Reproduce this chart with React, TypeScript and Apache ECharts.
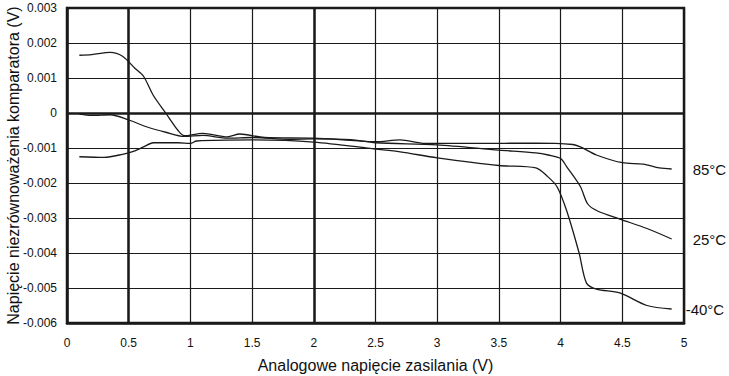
import React, { useEffect, useRef } from "react";
import * as echarts from "echarts";

const xTicks = [0, 0.5, 1, 1.5, 2, 2.5, 3, 3.5, 4, 4.5, 5];
const seriesNames = ["85°C", "25°C", "-40°C"];

const hot85: [number, number][] = [
  [0.1, 0.00165], [0.2, 0.00167], [0.35, 0.00173], [0.45, 0.00162], [0.55, 0.00128],
  [0.62, 0.00105], [0.7, 0.0005], [0.8, 0.0], [0.9, -0.0005], [0.95, -0.00065],
  [1.1, -0.00058], [1.3, -0.00068], [1.4, -0.0006], [1.6, -0.0007], [2.0, -0.00072],
  [2.3, -0.00078], [2.5, -0.00082], [2.7, -0.00077], [2.9, -0.00087], [3.3, -0.00087],
  [3.8, -0.00086], [4.1, -0.0009], [4.16, -0.00097], [4.29, -0.0012], [4.5, -0.00142],
  [4.67, -0.00146], [4.8, -0.00157], [4.9, -0.0016],
];

const room25: [number, number][] = [
  [0.1, -0.00003], [0.2, -0.00007], [0.35, -0.00005], [0.5, -0.0002], [0.65, -0.0004],
  [0.8, -0.00055], [0.95, -0.00067], [1.1, -0.00064], [1.3, -0.00072], [1.5, -0.0007],
  [1.8, -0.00075], [2.0, -0.00074], [2.3, -0.00076], [2.5, -0.00085], [3.0, -0.00091],
  [3.5, -0.00106], [3.8, -0.00114], [3.9, -0.0012], [4.0, -0.0013], [4.05, -0.00154],
  [4.16, -0.0021], [4.22, -0.0026], [4.3, -0.0028], [4.48, -0.00303], [4.7, -0.0033],
  [4.9, -0.0036],
];

const cold40: [number, number][] = [
  [0.1, -0.00125], [0.3, -0.00127], [0.45, -0.00118], [0.55, -0.00108], [0.62, -0.00097],
  [0.7, -0.00085], [0.9, -0.00085], [1.0, -0.00087], [1.05, -0.0008], [1.5, -0.00077],
  [2.0, -0.00083], [2.5, -0.00103], [2.7, -0.00111], [3.0, -0.00128], [3.5, -0.0015],
  [3.8, -0.00157], [3.89, -0.0018], [3.97, -0.0021], [4.05, -0.0028], [4.15, -0.004],
  [4.21, -0.00486], [4.29, -0.00503], [4.48, -0.00514], [4.7, -0.0055], [4.9, -0.0056],
];

const thickX = [0.5, 2];
const thickY = [0.001];

export default function App() {
  const ref = useRef<HTMLDivElement>(null);
  useEffect(() => {
    if (!ref.current) return;
    const chart = echarts.init(ref.current, null, { renderer: "svg" });
    const font = "'Liberation Sans', Arial, sans-serif";
    const lineStyle = { color: "#1a1a1a", width: 1.3 };
    const mk = (name: string, data: [number, number][], dist: number, withMarks: boolean) => ({
      name,
      type: "line",
      data,
      smooth: 0.3,
      showSymbol: false,
      lineStyle,
      z: 5,
      endLabel: {
        show: true,
        formatter: name,
        distance: dist,
        color: "#111",
        fontSize: 15,
        fontFamily: font,
      },
      markLine: withMarks
        ? {
            silent: true,
            symbol: "none",
            label: { show: false },
            lineStyle: { color: "#1a1a1a", width: 2.5, type: "solid" },
            data: [
              ...thickX.map((v) => ({ xAxis: v })),
              ...thickY.map((v) => ({ yAxis: v })),
            ],
          }
        : undefined,
    });
    chart.setOption({
      animation: false,
      textStyle: { fontFamily: font },
      grid: {
        left: 67,
        right: 45,
        top: 8,
        bottom: 53,
        containLabel: false,
        outerBoundsMode: "none",
        show: true,
        borderColor: "#1a1a1a",
        borderWidth: 2.5,
      },
      xAxis: {
        type: "value",
        min: 0,
        max: 5,
        interval: 0.5,
        name: "Analogowe napięcie zasilania (V)",
        nameLocation: "middle",
        nameGap: 34,
        nameMoveOverlap: false,
        nameTextStyle: { fontSize: 16, color: "#111", fontFamily: font },
        axisLine: { show: true, onZero: false, lineStyle: { color: "#1a1a1a", width: 2.5 } },
        axisTick: { show: false },
        axisLabel: {
          color: "#111",
          fontSize: 12,
          margin: 14,
          formatter: (v: number) => (xTicks.includes(v) ? String(v) : ""),
        },
        splitLine: { show: true, lineStyle: { color: "#1a1a1a", width: 1.2 } },
      },
      yAxis: {
        type: "value",
        min: -0.006,
        max: 0.003,
        interval: 0.001,
        name: "Napięcie niezrównoważenia komparatora (V)",
        nameLocation: "middle",
        nameGap: 46,
        nameMoveOverlap: false,
        nameTextStyle: { fontSize: 16, color: "#111", fontFamily: font },
        axisLine: { show: true, onZero: false, lineStyle: { color: "#1a1a1a", width: 2.5 } },
        axisTick: { show: false },
        axisLabel: {
          color: "#111",
          fontSize: 12,
          margin: 10,
          formatter: (v: number) => {
            const r = Math.round(v * 1000) / 1000;
            return r === 0 ? "0" : r.toFixed(3);
          },
        },
        splitLine: { show: true, lineStyle: { color: "#1a1a1a", width: 1.2 } },
      },
      series: [
        mk(seriesNames[0], hot85, 21, true),
        mk(seriesNames[1], room25, 21, false),
        mk(seriesNames[2], cold40, 14, false),
      ],
    });
    return () => chart.dispose();
  }, []);
  return <div ref={ref} style={{ width: 729, height: 376, position: "absolute", left: 0, top: 0 }} />;
}
